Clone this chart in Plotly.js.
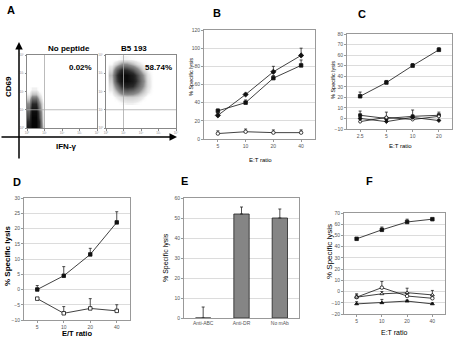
<!DOCTYPE html>
<html><head><meta charset="utf-8">
<script src="https://cdn.plot.ly/plotly-3.0.1.min.js"></script>
<style>html,body{margin:0;padding:0;background:#fff}#chart{width:454px;height:339px}</style>
</head><body><div id="chart"></div>
<script>
// ---------- Panel A: flow cytometry density ----------
const flowTicks = [0,1,2,3,4];
const flowTickText = ['10⁰','10¹','10²','10³','10⁴'];
const gateX = 1, gateY = 1;
const flowNoPepX = [0.1,0.3,0.5,0.7,0.9];
const flowNoPepY = [0.1,0.35,0.6,0.85,1.1,1.35,1.6,1.85,2.1];
const flowNoPepZ = [
  [0.8,1,1,0.7,0.15],
  [0.7,1,1,0.7,0.1],
  [0.6,1,1,0.6,0.1],
  [0.5,0.95,0.95,0.55,0.08],
  [0.4,0.85,0.85,0.45,0.05],
  [0.3,0.7,0.7,0.35,0.05],
  [0.15,0.45,0.45,0.2,0],
  [0.05,0.2,0.2,0.08,0],
  [0,0.05,0.05,0,0]
];
const flowB5X = [0.3,0.6,0.9,1.2,1.5,1.8,2.1,2.4,2.7];
const flowB5Y = [1.4,1.7,2.0,2.3,2.6,2.9,3.2,3.5,3.8];
const flowB5Z = [
  [0,0,0.03,0.05,0.05,0.03,0,0,0],
  [0,0.06,0.12,0.15,0.15,0.12,0.06,0,0],
  [0.04,0.2,0.4,0.45,0.4,0.3,0.18,0.06,0],
  [0.1,0.4,0.7,0.75,0.7,0.5,0.3,0.1,0],
  [0.15,0.6,0.9,0.95,0.85,0.6,0.35,0.1,0],
  [0.2,0.65,0.95,0.95,0.8,0.55,0.3,0.08,0],
  [0.12,0.5,0.75,0.7,0.55,0.35,0.15,0.04,0],
  [0.03,0.15,0.3,0.3,0.2,0.1,0.04,0,0],
  [0,0,0.04,0.04,0.02,0,0,0,0]
];
const pctNoPeptide = '0.02%';
const pctB5 = '58.74%';

// ---------- Panel B ----------
const bCats = ['5','10','20','40'];
const bS1 = [26,49,74,92];   const bS1err = [2,1,6,8];
const bS2 = [31,40,67,81];   const bS2err = [2,3,3,6];
const bS3 = [6,8,7,7];       const bS3err = [3,3,3,3];
const bTicks = [0,20,40,60,80,100,120];

// ---------- Panel C ----------
const cCats = ['2.5','5','10','20'];
const cS1 = [21,34,50,65];   const cS1err = [4,2,2,2];
const cS2 = [3,0,2,3];       const cS2err = [4,1,6,3];
const cS3 = [-3,1,-1,2];     const cS3err = [2,5,2,2];
const cS4 = [0,-3,1,-2];     const cS4err = [1,1,1,1];
const cTicks = [-10,0,10,20,30,40,50,60,70,80];

// ---------- Panel D ----------
const dCats = ['5','10','20','40'];
const dS1 = [0,4.5,11.5,22];     const dS1err = [1.3,3,2,3.5];
const dS2 = [-3,-7.8,-6.2,-7];   const dS2err = [0,2.2,3.2,2];
const dTicks = [-10,-5,0,5,10,15,20,25,30];

// ---------- Panel E ----------
const eCats = ['Anti-ABC','Anti-DR','No mAb'];
const eVals = [0,52,50];
const eErr = [5.5,3.5,4.5];
const eTicks = [0,10,20,30,40,50,60];

// ---------- Panel F ----------
const fCats = ['5','10','20','40'];
const fS1 = [47,55,62,64.5];     const fS1err = [0.5,2.5,2.5,0.5];
const fS2 = [-5,3.5,-4,-6];      const fS2err = [3,5.5,2,2];
const fS3 = [-5,-2,-1,-3];       const fS3err = [2,2,4,4];
const fS4 = [-11,-10,-8.5,-11];  const fS4err = [2,3,1,1];
const fTicks = [-20,-10,0,10,20,30,40,50,60,70];

// ---------- layout helpers ----------
const W = 454, H = 339;
const px = x => x / W;
const py = y => 1 - y / H;
const FONT = 'Liberation Sans, Arial, sans-serif';
const tickFont = {family: FONT, size: 5, color: '#555'};

function lineAxisX(l, r, n) {
  return {domain:[px(l),px(r)], type:'category', range:[-0.5, n-0.5], showline:true, mirror:true,
    linecolor:'#999', linewidth:1, ticks:'outside', ticklen:2, tickcolor:'#999', tickfont:tickFont,
    showgrid:false, zeroline:false, fixedrange:true};
}
function lineAxisY(t, b, rng, tv) {
  return {domain:[py(b),py(t)], range:rng, tickvals:tv, showline:true, mirror:true,
    linecolor:'#999', linewidth:1, ticks:'outside', ticklen:2, tickcolor:'#999', tickfont:tickFont,
    showgrid:true, gridcolor:'#dcdcdc', gridwidth:1, zeroline:false, fixedrange:true};
}
function flowAxis(dom) {
  return {domain:dom, range:[0,4], tickvals:flowTicks, ticktext:flowTickText, showline:true, mirror:true,
    linecolor:'#888', linewidth:1, ticks:'outside', ticklen:1.5, tickcolor:'#888',
    tickfont:{family:FONT,size:3,color:'#888'}, showgrid:false, zeroline:false, fixedrange:true};
}
function errUp(arr) {
  return {type:'data', array:arr, arrayminus:arr.map(()=>0), symmetric:false,
    thickness:0.8, width:1.5, color:'#222'};
}
function lineTrace(xs, ys, err, ax, symbol, filled, size) {
  return {type:'scatter', mode:'lines+markers', x:xs, y:ys, xaxis:'x'+ax, yaxis:'y'+ax,
    line:{color:'#111', width:0.8},
    marker:{symbol:symbol, size:size||3.5, color: filled ? '#111' : '#fff', line:{color:'#111', width:0.8}},
    error_y: errUp(err), hoverinfo:'skip', showlegend:false, cliponaxis:false};
}

const heatScale = [[0,'rgba(255,255,255,0)'],[0.06,'rgba(170,170,170,0.25)'],[0.3,'rgba(90,90,90,0.7)'],[0.7,'rgba(30,30,30,0.95)'],[1,'rgb(5,5,5)']];

const data = [
  {type:'heatmap', x:flowNoPepX, y:flowNoPepY, z:flowNoPepZ, xaxis:'x', yaxis:'y', zsmooth:'best',
   colorscale:heatScale, zmin:0, zmax:1, showscale:false, hoverinfo:'skip'},
  {type:'heatmap', x:flowB5X, y:flowB5Y, z:flowB5Z, xaxis:'x2', yaxis:'y2', zsmooth:'best',
   colorscale:heatScale, zmin:0, zmax:1, showscale:false, hoverinfo:'skip'},
  // B
  lineTrace(bCats, bS3, bS3err, 3, 'circle', false, 3.5),
  lineTrace(bCats, bS2, bS2err, 3, 'square', true, 3.5),
  lineTrace(bCats, bS1, bS1err, 3, 'diamond', true, 4),
  // C
  lineTrace(cCats, cS1, cS1err, 4, 'square', true, 3.5),
  lineTrace(cCats, cS2, cS2err, 4, 'square', true, 3),
  lineTrace(cCats, cS3, cS3err, 4, 'circle', false, 3),
  lineTrace(cCats, cS4, cS4err, 4, 'diamond', true, 3),
  // D
  lineTrace(dCats, dS1, dS1err, 5, 'square', true, 3.5),
  lineTrace(dCats, dS2, dS2err, 5, 'square', false, 3.5),
  // E
  {type:'bar', x:eCats, y:eVals, xaxis:'x6', yaxis:'y6', width:0.4,
   marker:{color:'#858585', line:{color:'#222', width:0.8}}, error_y:errUp(eErr),
   hoverinfo:'skip', showlegend:false},
  // F
  lineTrace(fCats, fS1, fS1err, 7, 'square', true, 3.5),
  lineTrace(fCats, fS2, fS2err, 7, 'circle', false, 3.5),
  lineTrace(fCats, fS3, fS3err, 7, 'triangle-up', false, 3.5),
  lineTrace(fCats, fS4, fS4err, 7, 'triangle-up', true, 3.5)
];

const ann = [];
function txt(x, y, t, size, opts) {
  ann.push(Object.assign({xref:'paper', yref:'paper', x:px(x), y:py(y), text:t, showarrow:false,
    font:{family:FONT, size:size, color:'#000'}, xanchor:'center', yanchor:'middle'}, opts||{}));
}
// panel letters
txt(11,10,'<b>A</b>',11); txt(217,13,'<b>B</b>',11); txt(362,14,'<b>C</b>',11);
txt(17,182,'<b>D</b>',11); txt(184,181,'<b>E</b>',11); txt(369,181,'<b>F</b>',11);
// panel A texts
txt(69,48,'<b>No peptide</b>',8); txt(134,48,'<b>B5 193</b>',8);
txt(80,68,'<b>'+pctNoPeptide+'</b>',8); txt(158,67,'<b>'+pctB5+'</b>',8);
txt(9,87,'<b>CD69</b>',8,{textangle:-90}); txt(66,146,'<b>IFN-γ</b>',8);
// arrows
ann.push({xref:'paper', yref:'paper', x:px(19), y:py(42), ax:0, ay:118, axref:'pixel', ayref:'pixel',
  showarrow:true, arrowhead:2, arrowsize:1, arrowwidth:1.5, arrowcolor:'#000', text:''});
ann.push({xref:'paper', yref:'paper', x:px(177), y:py(137), ax:-177, ay:0, axref:'pixel', ayref:'pixel',
  showarrow:true, arrowhead:2, arrowsize:1, arrowwidth:1.5, arrowcolor:'#000', text:''});
// axis titles
txt(191,77,'% Specific lysis',5.5,{textangle:-90});
txt(260,160,'E:T ratio',6);
txt(333,80,'% Specific lysis',5.5,{textangle:-90});
txt(400,146,'E:T ratio',6);
txt(7,256,'<b>% Specific lysis</b>',8,{textangle:-90});
txt(77,333,'<b>E/T ratio</b>',7.5);
txt(166,258,'% Specific lysis',7,{textangle:-90});
txt(329,252,'% Specific lysis',8,{textangle:-90});
txt(394,332,'E:T ratio',7);

const shapes = [];
[['x','y'],['x2','y2']].forEach(([xa,ya]) => {
  shapes.push({type:'line', xref:xa, yref:ya, x0:gateX, x1:gateX, y0:0, y1:4, line:{color:'#aaa', width:0.8}});
  shapes.push({type:'line', xref:xa, yref:ya, x0:0, x1:4, y0:gateY, y1:gateY, line:{color:'#aaa', width:0.8}});
});

const layout = {
  width:W, height:H, margin:{l:0,r:0,t:0,b:0}, paper_bgcolor:'#fff', plot_bgcolor:'#fff',
  showlegend:false, font:{family:FONT},
  xaxis: Object.assign(flowAxis([px(27),px(97)]), {anchor:'y'}),
  yaxis: Object.assign(flowAxis([py(128),py(55)]), {anchor:'x'}),
  xaxis2: Object.assign(flowAxis([px(106),px(176)]), {anchor:'y2'}),
  yaxis2: Object.assign(flowAxis([py(128),py(55)]), {anchor:'x2'}),
  xaxis3: Object.assign(lineAxisX(204,315,4), {anchor:'y3'}),
  yaxis3: Object.assign(lineAxisY(30,139,[0,120],bTicks), {anchor:'x3'}),
  xaxis4: Object.assign(lineAxisX(347,452,4), {anchor:'y4'}),
  yaxis4: Object.assign(lineAxisY(34,129,[-10,80],cTicks), {anchor:'x4'}),
  xaxis5: Object.assign(lineAxisX(24,130,4), {anchor:'y5'}),
  yaxis5: Object.assign(lineAxisY(198,320,[-10,30],dTicks), {anchor:'x5'}),
  xaxis6: Object.assign(lineAxisX(184,299,3), {anchor:'y6'}),
  yaxis6: Object.assign(lineAxisY(198,318,[0,60],eTicks), {anchor:'x6'}),
  xaxis7: Object.assign(lineAxisX(344,445,4), {anchor:'y7'}),
  yaxis7: Object.assign(lineAxisY(213,314,[-20,70],fTicks), {anchor:'x7'}),
  annotations: ann, shapes: shapes
};
layout.xaxis6.ticks = '';
Plotly.newPlot('chart', data, layout, {staticPlot:true, displayModeBar:false});
</script></body></html>
